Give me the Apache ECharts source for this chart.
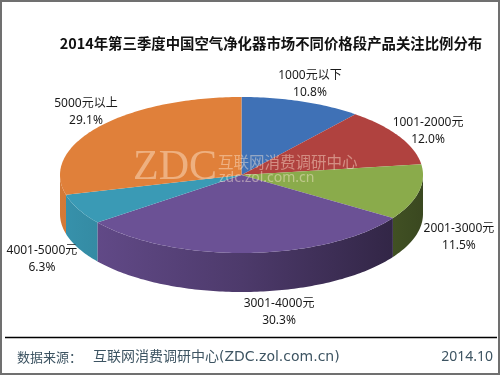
<!DOCTYPE html>
<html>
<head>
<meta charset="utf-8">
<script src="https://cdn.jsdelivr.net/npm/echarts@6/dist/echarts.min.js"></script>
<style>
  html, body { margin: 0; padding: 0; background: #fff; }
  #chart { width: 500px; height: 375px; }
</style>
</head>
<body>
<div id="chart"></div>
<script>
// ---- data ----
const titleText = '2014年第三季度中国空气净化器市场不同价格段产品关注比例分布';
const categories = ['1000元以下', '1001-2000元', '2001-3000元', '3001-4000元', '4001-5000元', '5000元以上'];
const shares = [10.8, 12.0, 11.5, 30.3, 6.3, 29.1];
const sourceLabel = '数据来源：';
const sourceName = '互联网消费调研中心(ZDC.zol.com.cn)';
const dateText = '2014.10';

// ---- styles / layout ----
const colors = ['#3f71b6', '#b0423f', '#8aab4b', '#6b5195', '#3a9ab5', '#e0803a'];
const geo = { cx: 241.5, cy: 175, rx: 181.5, ry: 78, depth: 39 };
const labelNudge = [[-4, -3], [-3, 2], [5, 2], [30, 5], [-4, 4], [17, -6]];
const LABEL_FONT = '12px "Noto Sans", "Noto Sans CJK SC", sans-serif';

function shade(hex, f) {
  const n = parseInt(hex.slice(1), 16);
  const r = Math.round(((n >> 16) & 255) * f);
  const g = Math.round(((n >> 8) & 255) * f);
  const b = Math.round((n & 255) * f);
  return 'rgb(' + r + ',' + g + ',' + b + ')';
}

function pt(a, dy) {
  return [geo.cx + geo.rx * Math.sin(a), geo.cy - geo.ry * Math.cos(a) + (dy || 0)];
}

function arcPoints(a0, a1, dy) {
  const pts = [];
  const steps = Math.max(2, Math.ceil((a1 - a0) / (Math.PI / 180)));
  for (let k = 0; k <= steps; k++) pts.push(pt(a0 + (a1 - a0) * k / steps, dy));
  return pts;
}

const total = shares.reduce((a, b) => a + b, 0);

function renderItem(params, api) {
  const i = params.dataIndex;
  const v = api.value(0);
  let start = 0;
  for (let k = 0; k < i; k++) start += shares[k];
  const a0 = start / total * 2 * Math.PI;
  const a1 = (start + v) / total * 2 * Math.PI;
  const color = colors[i];
  const children = [];

  // outer wall (front half only)
  const b0 = Math.max(a0, Math.PI / 2);
  const b1 = Math.min(a1, Math.PI * 3 / 2);
  if (b1 > b0) {
    const top = arcPoints(b0, b1, 0);
    const bottom = arcPoints(b0, b1, geo.depth).reverse();
    children.push({
      type: 'polygon',
      z2: 1,
      shape: { points: top.concat(bottom) },
      style: {
        fill: new echarts.graphic.LinearGradient(geo.cx - geo.rx, 0, geo.cx + geo.rx, 0, [
          { offset: 0, color: shade(color, 0.95) },
          { offset: 0.5, color: shade(color, 0.72) },
          { offset: 1, color: shade(color, 0.42) }
        ], true)
      }
    });
  }

  // top face
  children.push({
    type: 'polygon',
    z2: 10,
    shape: { points: [[geo.cx, geo.cy]].concat(arcPoints(a0, a1, 0)) },
    style: { fill: color }
  });

  // label
  const m = (a0 + a1) / 2;
  const lx = geo.cx + 1.2 * geo.rx * Math.sin(m) + labelNudge[i][0];
  const ly = geo.cy - 1.2 * geo.ry * Math.cos(m) + (Math.cos(m) < 0 ? geo.depth : 0) + labelNudge[i][1];
  children.push({
    type: 'text',
    z2: 30,
    style: {
      text: categories[i] + '\n' + v.toFixed(1) + '%',
      x: lx, y: ly,
      align: 'center', verticalAlign: 'middle',
      font: LABEL_FONT, lineHeight: 17, fill: '#1a1a1a'
    }
  });

  return { type: 'group', children: children };
}

const chart = echarts.init(document.getElementById('chart'), null, { renderer: 'canvas' });
chart.setOption({
  backgroundColor: '#ffffff',
  animation: false,
  series: [{
    type: 'custom',
    coordinateSystem: 'none',
    renderItem: renderItem,
    data: shares.map((v, i) => [v, i])
  }],
  graphic: [
    { type: 'rect', z: 100, shape: { x: 1, y: 1, width: 498, height: 373 }, style: { fill: 'none', stroke: '#707070', lineWidth: 2 } },
    { type: 'text', z: 50, style: { text: titleText, x: 271, y: 44, align: 'center', verticalAlign: 'middle', font: 'bold 14.4px "Noto Sans CJK SC", sans-serif', fill: '#111' } },
    // watermark
    { type: 'text', z: 60, style: { text: 'ZDC', x: 133, y: 168, align: 'left', verticalAlign: 'middle', font: '42px "Liberation Serif", serif', fill: 'rgba(255,235,215,0.45)' } },
    { type: 'text', z: 60, style: { text: '互联网消费调研中心', x: 218, y: 162, align: 'left', verticalAlign: 'middle', font: '15.5px "Noto Sans CJK SC", sans-serif', fill: 'rgba(255,235,215,0.45)' } },
    { type: 'text', z: 60, style: { text: 'zdc.zol.com.cn', x: 219, y: 178, align: 'left', verticalAlign: 'middle', font: '14px "Noto Sans", sans-serif', fill: 'rgba(255,235,215,0.45)' } },
    // footer
    { type: 'line', z: 50, shape: { x1: 5, y1: 337.5, x2: 497, y2: 337.5 }, style: { stroke: '#000', lineWidth: 1.5 } },
    { type: 'text', z: 50, style: { text: sourceLabel, x: 17, y: 357, align: 'left', verticalAlign: 'middle', font: '13px "Noto Sans CJK SC", sans-serif', fill: '#3d5462' } },
    { type: 'text', z: 50, style: { text: sourceName, x: 93, y: 357, align: 'left', verticalAlign: 'middle', font: '14px "DejaVu Sans", "Noto Sans CJK SC", sans-serif', fill: '#3d5462' } },
    { type: 'text', z: 50, style: { text: dateText, x: 493, y: 357, align: 'right', verticalAlign: 'middle', font: '14px "Noto Sans", sans-serif', fill: '#3d5462' } }
  ]
});
</script>
</body>
</html>
